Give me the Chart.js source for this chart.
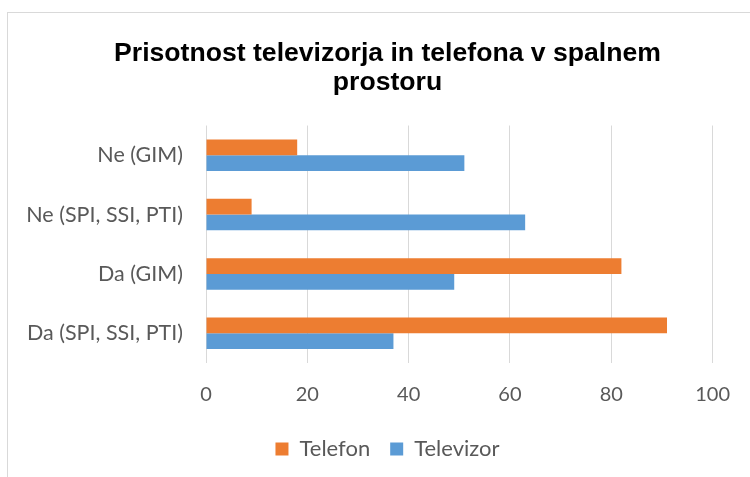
<!DOCTYPE html>
<html>
<head>
<meta charset="utf-8">
<script src="https://cdn.jsdelivr.net/npm/chart.js@4.4.0/dist/chart.umd.min.js"></script>
<style>
  html, body { margin: 0; padding: 0; background: #fff; overflow: hidden; }
  #wrap { position: relative; width: 750px; height: 477px; }
</style>
</head>
<body>
<div id="wrap"><canvas id="chart" width="750" height="477"></canvas></div>
<script>
// categories top to bottom as shown
const categories = ["Ne (GIM)", "Ne (SPI, SSI, PTI)", "Da (GIM)", "Da (SPI, SSI, PTI)"];
const telefon = [18, 9, 82, 91];
const televizor = [51, 63, 49, 37];
const xTicks = [0, 20, 40, 60, 80, 100];

const labelFont = "Lato, 'Liberation Sans', sans-serif";

// light frame round the chart, as in the original
const framePlugin =
{
	id: "frame",
	beforeDraw(chart)
	{
		const ctx = chart.ctx;
		ctx.save();
		ctx.fillStyle = "#ffffff";
		ctx.fillRect(0, 0, chart.width, chart.height);
		ctx.strokeStyle = "#d9d9d9";
		ctx.lineWidth = 1;
		ctx.strokeRect(7.5, 12.5, 800, 600);
		ctx.restore();
	}
};

// the original centres title and legend on the whole frame, not on the plot
const shiftPlugin =
{
	id: "shiftBlocks",
	afterLayout(chart)
	{
		const dx = 25;
		for (const box of [chart.titleBlock, chart.legend])
		{
			if (!box) continue;
			box.left += dx;
			box.right += dx;
		}
	}
};

const data =
{
	labels: categories,
	datasets:
	[
		{
			label: "Telefon",
			backgroundColor: "#ED7D31",
			data: telefon,
			categoryPercentage: 0.53,
			barPercentage: 1.0
		},
		{
			label: "Televizor",
			backgroundColor: "#5B9BD5",
			data: televizor,
			categoryPercentage: 0.53,
			barPercentage: 1.0
		}
	]
};

const config =
{
	type: "bar",
	data: data,
	options:
	{
		indexAxis: "y",
		responsive: false,
		animation: false,
		layout: { padding: { left: 8, right: 33, top: 0, bottom: 7 } },
		plugins:
		{
			title:
			{
				display: true,
				text: ["Prisotnost televizorja in telefona v spalnem", "prostoru"],
				color: "#000000",
				font: { family: "'Liberation Sans', Arial, sans-serif", size: 26.6, weight: "bold", lineHeight: 1.1 },
				padding: { top: 39, bottom: 28 }
			},
			legend:
			{
				position: "bottom",
				labels:
				{
					color: "#595959",
					font: { family: labelFont, size: 22 },
					boxWidth: 13,
					boxHeight: 13,
					padding: 20
				}
			},
			tooltip: { enabled: false }
		},
		scales:
		{
			x:
			{
				min: 0,
				max: 100,
				afterBuildTicks: (scale) => { scale.ticks = xTicks.map(v => ({ value: v })); },
				afterFit: (scale) => { scale.height = 55; },
				grid: { color: "#d9d9d9", lineWidth: 1, drawTicks: false },
				border: { display: false },
				ticks: { color: "#595959", font: { family: labelFont, size: 20 }, padding: 20 }
			},
			y:
			{
				afterFit: (scale) => { scale.width = 198; },
				grid: { display: false, drawTicks: false },
				border: { display: false },
				ticks: { color: "#595959", font: { family: labelFont, size: 21.5 }, padding: 23 }
			}
		}
	},
	plugins: [framePlugin, shiftPlugin]
};

new Chart(document.getElementById("chart"), config);
</script>
</body>
</html>
